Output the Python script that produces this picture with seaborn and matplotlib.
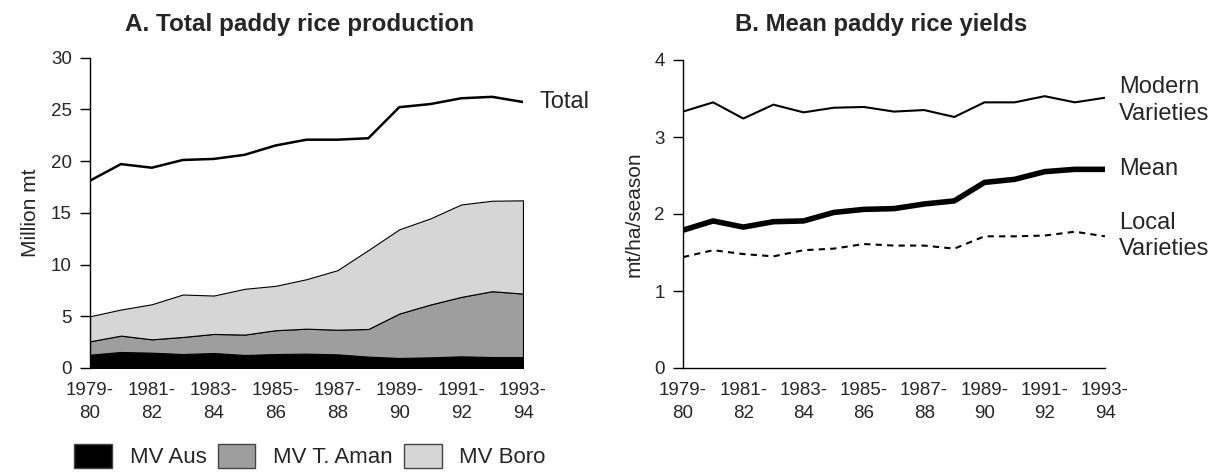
import seaborn as sns
import matplotlib.pyplot as plt
from matplotlib.patches import Patch
import numpy as np
import pandas as pd

years = ["1979-80", "1980-81", "1981-82", "1982-83", "1983-84", "1984-85", "1985-86",
         "1986-87", "1987-88", "1988-89", "1989-90", "1990-91", "1991-92", "1992-93", "1993-94"]

# production, million mt (stacked layers)
mv_aus = [1.29, 1.55, 1.48, 1.35, 1.45, 1.26, 1.35, 1.39, 1.32, 1.10, 0.97, 1.03, 1.13, 1.06, 1.06]
mv_aman = [1.29, 1.58, 1.29, 1.65, 1.84, 1.97, 2.30, 2.41, 2.38, 2.67, 4.29, 5.10, 5.74, 6.36, 6.13]
mv_boro = [2.42, 2.52, 3.39, 4.10, 3.71, 4.42, 4.29, 4.78, 5.75, 7.63, 8.14, 8.32, 8.93, 8.74, 9.01]
total = [18.1, 19.7, 19.35, 20.1, 20.2, 20.6, 21.5, 22.06, 22.06, 22.2, 25.2, 25.5, 26.06, 26.2, 25.7]

# yields, mt/ha/season
modern = [3.33, 3.45, 3.24, 3.42, 3.32, 3.38, 3.39, 3.33, 3.35, 3.26, 3.45, 3.45, 3.53, 3.45, 3.51]
mean = [1.79, 1.91, 1.83, 1.90, 1.91, 2.02, 2.06, 2.07, 2.13, 2.17, 2.41, 2.45, 2.55, 2.58, 2.58]
local = [1.44, 1.53, 1.48, 1.45, 1.53, 1.55, 1.61, 1.59, 1.59, 1.55, 1.71, 1.71, 1.72, 1.77, 1.71]

df = pd.DataFrame({"x": np.arange(len(years)), "year": years, "total": total,
                   "modern": modern, "mean": mean, "local": local})

sns.set_theme(style="white")
plt.rcParams['font.family'] = ['Liberation Sans', 'DejaVu Sans']

fig = plt.figure(figsize=(12.21, 4.72), dpi=100)
ax1 = fig.add_axes([90 / 1221, 104 / 472, 433 / 1221, 310.5 / 472])
ax2 = fig.add_axes([683 / 1221, 104 / 472, 422 / 1221, 308 / 472])

colors = ["#000000", "#9e9e9e", "#d6d6d6"]
ax1.stackplot(df["x"], mv_aus, mv_aman, mv_boro, colors=colors,
              edgecolor="black", linewidth=0.8)
ax1.plot([df["x"].iloc[-1]] * 2, [0, sum(v[-1] for v in (mv_aus, mv_aman, mv_boro))],
         color="black", lw=0.8)
sns.lineplot(data=df, x="x", y="total", color="black", lw=1.8, ax=ax1)
ax1.annotate("Total", (df["x"].iloc[-1], total[-1]), xytext=(12, 0),
             textcoords="offset points", va="center", fontsize=17, annotation_clip=False)

ax1.set_xlim(0, 14)
ax1.set_ylim(0, 30)
ax1.set_yticks(range(0, 31, 5))
ax1.set_ylabel("Million mt", fontsize=15, labelpad=8)

sns.lineplot(data=df, x="x", y="modern", color="black", lw=1.5, ax=ax2)
sns.lineplot(data=df, x="x", y="mean", color="black", lw=4, ax=ax2)
sns.lineplot(data=df, x="x", y="local", color="black", lw=1.5, ax=ax2)
ax2.lines[-1].set_dashes([3, 2.5])
ax2.annotate("Modern\nVarieties", (df["x"].iloc[-1], modern[-1]), xytext=(10, -2),
             textcoords="offset points", va="center", fontsize=17, linespacing=1.25,
             annotation_clip=False)
ax2.annotate("Mean", (df["x"].iloc[-1], mean[-1]), xytext=(10, 0),
             textcoords="offset points", va="center", fontsize=17, annotation_clip=False)
ax2.annotate("Local\nVarieties", (df["x"].iloc[-1], local[-1]), xytext=(10, 0),
             textcoords="offset points", va="center", fontsize=17, linespacing=1.25,
             annotation_clip=False)
ax2.set_xlim(0, 14)
ax2.set_ylim(0, 4)
ax2.set_yticks(range(0, 5))
ax2.set_ylabel("mt/ha/season", fontsize=15, labelpad=8)

xt = df["x"][::2]
xl = [y.replace("-", "-\n") for y in df["year"][::2]]
for ax in (ax1, ax2):
    ax.set_xlabel("")
    ax.set_xticks(xt)
    ax.set_xticklabels(xl, linespacing=1.45)
    ax.tick_params(axis="x", length=0, pad=10, labelsize=13.5)
    ax.tick_params(axis="y", length=7, width=1, color="black", pad=6, labelsize=13.5, left=True)
    for s in ("top", "right"):
        ax.spines[s].set_visible(False)
    ax.spines["left"].set_color("black")
    ax.spines["bottom"].set_color("black")
    ax.spines["left"].set_linewidth(1)
    ax.spines["bottom"].set_linewidth(1)
ax1.spines["bottom"].set_visible(False)

fig.text(300 / 1221, 1 - 25 / 472, "A. Total paddy rice production", ha="center", va="center",
         fontsize=17.5, fontweight="bold")
fig.text(881 / 1221, 1 - 25 / 472, "B. Mean paddy rice yields", ha="center", va="center",
         fontsize=17.2, fontweight="bold")

handles = [Patch(facecolor=c, edgecolor="#444444", lw=1) for c in colors]
fig.legend(handles, ["MV Aus", "MV T. Aman", "MV Boro"], ncol=3, loc="center",
           bbox_to_anchor=(310 / 1221, 16 / 472), frameon=False, fontsize=16,
           handlelength=1.7, handleheight=1.3, handletextpad=0.8, columnspacing=0.5)

fig.savefig("out.png", dpi=100)
